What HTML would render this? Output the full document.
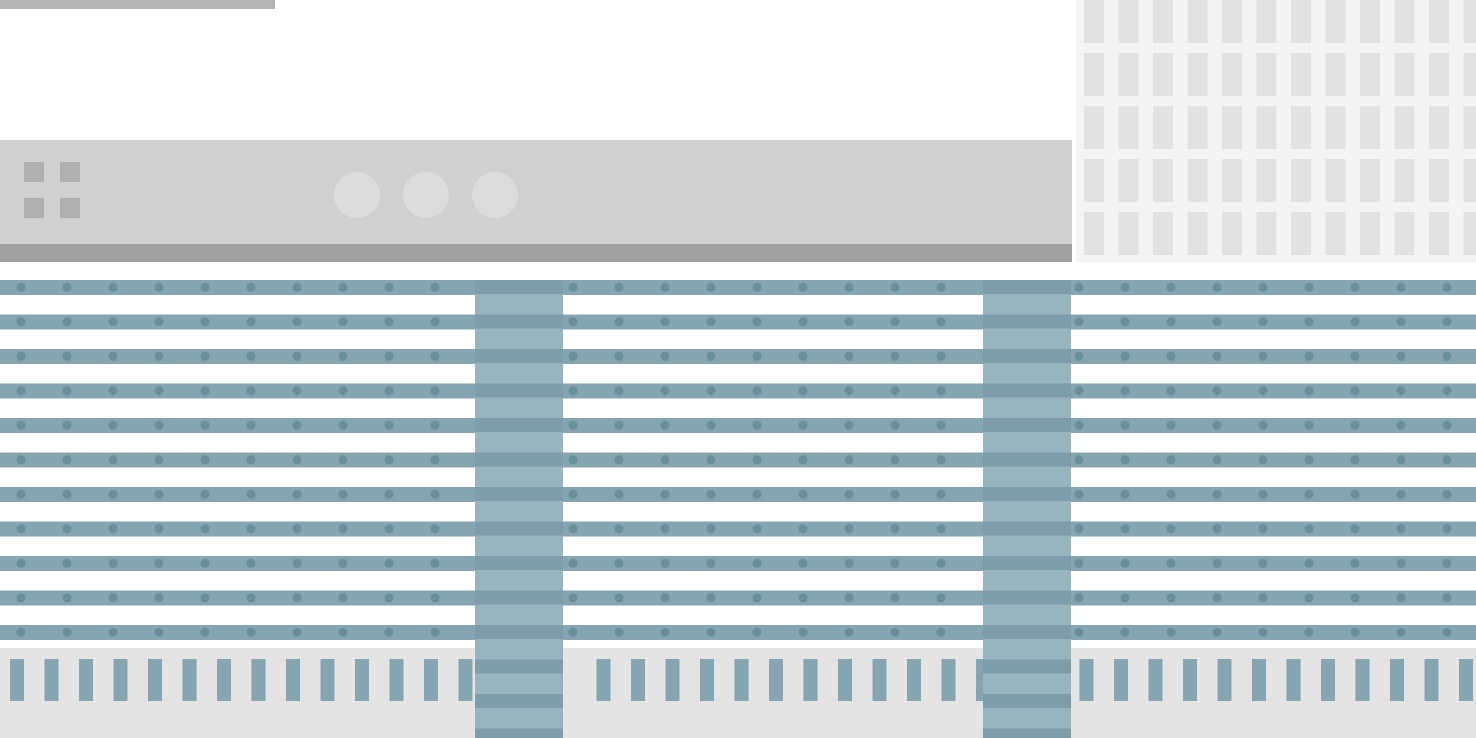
<!DOCTYPE html>
<html><head><meta charset="utf-8"><style>
body{margin:0;width:1476px;height:738px;overflow:hidden;background:#fff;position:relative;font-family:"Liberation Sans",sans-serif}
div{position:absolute}
</style></head><body>
<div style="left:0;top:0;width:275px;height:9px;background:#b4b4b4"></div>
<div style="left:1076px;top:0;width:400px;height:262px;background-color:#f4f4f4;background-image:repeating-linear-gradient(90deg,transparent 0 8px,#e2e2e2 8px 28px,transparent 28px 34.5px),repeating-linear-gradient(0deg,transparent 0 0px);"></div>
<div style="left:1076px;top:0;width:400px;height:262px;background-image:repeating-linear-gradient(180deg,transparent 0 43px,#f4f4f4 43px 53px)"></div>
<div style="left:0;top:140px;width:1072px;height:106px;background:#d0d0d0"></div>
<div style="left:0;top:244px;width:1072px;height:18px;background:#a0a0a0"></div>
<div style="left:24px;top:162px;width:58px;height:58px;background-image:linear-gradient(#b0b0b0,#b0b0b0),linear-gradient(#b0b0b0,#b0b0b0),linear-gradient(#b0b0b0,#b0b0b0),linear-gradient(#b0b0b0,#b0b0b0);background-size:20px 20px;background-repeat:no-repeat;background-position:0 0,36px 0,0 36px,36px 36px"></div>
<div style="left:334px;top:172px;width:46px;height:46px;border-radius:50%;background:#dcdcdc"></div>
<div style="left:403px;top:172px;width:46px;height:46px;border-radius:50%;background:#dcdcdc"></div>
<div style="left:472px;top:172px;width:46px;height:46px;border-radius:50%;background:#dcdcdc"></div>
<div style="left:0;top:280px;width:1476px;height:366px;background-image:repeating-linear-gradient(180deg,#85a5b1 0 15px,#fff 15px 34.5px)"></div>
<div style="left:0;top:280px;width:1476px;height:366px;background-image:radial-gradient(circle,#5f8593 4px,transparent 5px);background-size:46px 34.5px;background-position:-2px -10px;opacity:.7"></div>
<div style="left:0;top:648px;width:1476px;height:90px;background:#e4e4e4"></div>
<div style="left:10px;top:659px;width:1466px;height:42px;background-image:repeating-linear-gradient(90deg,#85a5b1 0 14px,transparent 14px 34.5px)"></div>
<div style="left:475px;top:280px;width:88px;height:458px;background:#8aa9b5;background-image:repeating-linear-gradient(180deg,#7d9dab 0 14px,#98b4bf 14px 34.5px)"></div>
<div style="left:983px;top:280px;width:88px;height:458px;background:#8aa9b5;background-image:repeating-linear-gradient(180deg,#7d9dab 0 14px,#98b4bf 14px 34.5px)"></div>
<div style="left:563px;top:648px;width:14px;height:90px;background:#e4e4e4"></div>
</body></html>
